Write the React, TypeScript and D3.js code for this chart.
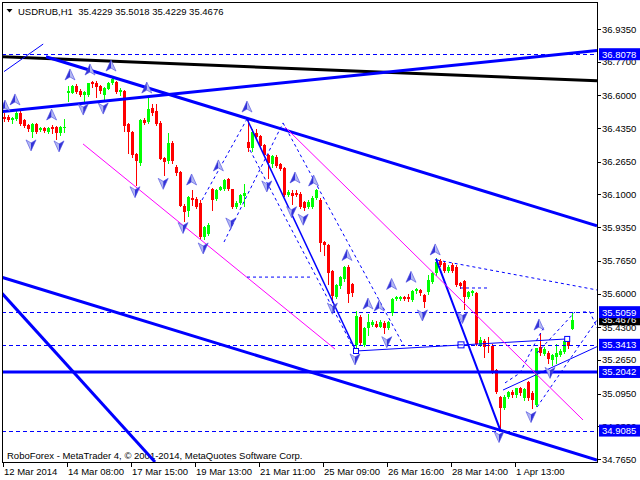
import * as d3 from "d3";

// USDRUB H1 candles (bar index 0..142), prices
const open = [36.493,36.49,36.476,36.483,36.513,36.476,36.45,36.415,36.455,36.425,36.435,36.415,36.44,36.44,36.41,36.438,
  36.611,36.614,36.647,36.624,36.6,36.6,36.667,36.664,36.647,36.6,36.634,36.662,36.667,36.617,36.62,36.455,
  36.415,36.304,36.257,36.476,36.466,36.536,36.523,36.462,36.284,36.267,36.361,36.24,36.213,36.042,36.018,36.082,
  36.079,36.057,35.887,35.9,36.128,36.077,36.123,36.128,36.176,36.126,36.037,36.057,36.092,36.366,36.333,36.41,
  36.395,36.35,36.299,36.254,36.291,36.254,36.233,36.097,36.109,36.109,36.102,36.06,36.039,36.039,36.08,36.07,
  35.86,35.844,35.715,35.584,35.638,35.672,35.733,35.648,35.341,35.48,35.341,35.424,35.441,35.447,35.433,35.452,
  35.426,35.5,35.573,35.573,35.583,35.583,35.568,35.613,35.618,35.593,35.608,35.66,35.702,35.764,35.756,35.716,
  35.744,35.736,35.655,35.665,35.585,35.601,35.601,35.341,35.362,35.341,35.336,35.214,35.08,35.021,35.08,35.105,
  35.088,35.122,35.073,35.154,35.1,35.038,35.332,35.295,35.302,35.265,35.278,35.29,35.305,35.361,35.4229];
const high = [36.51,36.5,36.49,36.526,36.52,36.48,36.455,36.46,36.46,36.44,36.44,36.44,36.45,36.445,36.445,36.481,
  36.647,36.654,36.655,36.63,36.62,36.665,36.674,36.674,36.65,36.64,36.67,36.69,36.675,36.635,36.627,36.46,
  36.42,36.31,36.48,36.485,36.593,36.556,36.556,36.47,36.29,36.41,36.37,36.25,36.22,36.05,36.09,36.123,
  36.085,36.07,35.94,35.955,36.135,36.13,36.145,36.18,36.183,36.13,36.065,36.1,36.153,36.48,36.43,36.43,
  36.4,36.355,36.305,36.3,36.3,36.26,36.24,36.125,36.12,36.12,36.11,36.065,36.07,36.09,36.13,36.08,
  35.865,35.85,35.72,35.65,35.69,35.74,35.745,35.655,35.512,35.49,35.43,35.497,35.465,35.46,35.465,35.46,
  35.46,35.58,35.59,35.59,35.59,35.598,35.62,35.63,35.625,35.6,35.692,35.71,35.779,35.775,35.765,35.745,
  35.755,35.745,35.66,35.67,35.615,35.62,35.61,35.38,35.37,35.383,35.345,35.22,35.085,35.09,35.11,35.115,
  35.125,35.13,35.125,35.16,35.11,35.325,35.4,35.33,35.31,35.295,35.346,35.32,35.37,35.383,35.5018];
const low = [36.47,36.47,36.462,36.478,36.45,36.44,36.42,36.391,36.41,36.42,36.415,36.41,36.41,36.382,36.4,36.415,
  36.573,36.61,36.61,36.595,36.561,36.595,36.644,36.592,36.61,36.577,36.63,36.655,36.61,36.6,36.422,36.311,
  36.29,36.15,36.25,36.455,36.46,36.5,36.45,36.28,36.198,36.26,36.26,36.2,36.04,35.968,35.99,36.047,
  36.03,35.88,35.875,35.895,36.022,36.07,36.12,36.12,36.12,36.03,36.03,36.05,36.04,36.32,36.32,36.385,
  36.34,36.295,36.183,36.24,36.24,36.225,36.09,36.09,36.051,36.09,36.03,36.02,36.03,36.03,36.075,35.816,
  35.796,35.648,35.559,35.575,35.63,35.665,35.559,35.59,35.31,35.345,35.335,35.391,35.435,35.43,35.43,35.401,
  35.42,35.49,35.565,35.565,35.565,35.562,35.56,35.605,35.595,35.532,35.6,35.655,35.695,35.74,35.71,35.71,
  35.71,35.64,35.63,35.522,35.58,35.595,35.34,35.335,35.282,35.307,35.2,35.1,34.917,35.015,35.075,35.08,
  35.08,35.09,35.065,35.065,35.023,35.03,35.29,35.29,35.25,35.24,35.25,35.285,35.3,35.325,35.4229];
const close = [36.481,36.476,36.486,36.511,36.455,36.443,36.43,36.455,36.415,36.435,36.42,36.435,36.43,36.41,36.441,36.442,
  36.62,36.647,36.617,36.6,36.617,36.664,36.657,36.641,36.62,36.637,36.664,36.681,36.617,36.627,36.445,36.415,
  36.298,36.27,36.476,36.459,36.533,36.511,36.455,36.281,36.265,36.358,36.27,36.207,36.042,36.013,36.086,36.072,
  36.038,35.887,35.936,35.946,36.072,36.125,36.14,36.173,36.126,36.038,36.057,36.097,36.107,36.333,36.416,36.388,
  36.344,36.299,36.257,36.294,36.244,36.23,36.096,36.114,36.092,36.096,36.039,36.03,36.062,36.082,36.12,35.857,
  35.844,35.705,35.588,35.645,35.682,35.733,35.598,35.601,35.487,35.349,35.426,35.457,35.457,35.433,35.454,35.426,
  35.454,35.574,35.583,35.583,35.573,35.572,35.614,35.623,35.601,35.559,35.668,35.706,35.761,35.744,35.716,35.736,
  35.716,35.643,35.638,35.581,35.61,35.614,35.344,35.366,35.332,35.336,35.206,35.105,35.021,35.08,35.105,35.088,
  35.122,35.097,35.117,35.073,35.063,35.324,35.298,35.32,35.268,35.29,35.302,35.312,35.361,35.333,35.4676];

const symbolTitle = "USDRUB,H1  35.4229 35.5018 35.4229 35.4676";
const footer = "RoboForex - MetaTrader 4, \u00a9 2001-2014, MetaQuotes Software Corp.";

const priceTicks = [36.935, 36.77, 36.6, 36.435, 36.265, 36.1, 35.935, 35.765, 35.6, 35.43, 35.265, 35.095, 34.93, 34.765];
const dateTicks = [0, 16, 32, 48, 64, 80, 96, 112, 128];
const dateLabels = ["12 Mar 2014", "14 Mar 08:00", "17 Mar 15:00", "19 Mar 13:00", "21 Mar 11:00",
  "25 Mar 09:00", "26 Mar 16:00", "28 Mar 14:00", "1 Apr 13:00"];

// horizontal levels
const dashedLevels = [36.8078, 35.5059, 35.3413, 34.9085];
const solidLevels = [35.2042];
const levelLabels = [36.8078, 35.5059, 35.3413, 35.2042, 34.9085];
const lastPrice = 35.4676;

// trend lines as [bar index, price] anchors
const blackLines = [[[-0.5, 36.795], [148.25, 36.674]]];
const thickBlueLines = [
  [[-0.5, 36.518], [148.25, 36.826]],
  [[10.5, 36.795], [148.25, 35.942]],
  [[-0.5, 35.682], [148.25, 34.76]],
  [[-0.5, 35.601], [37.75, 34.75]],
];
const mediumBlueLines = [[[108, 35.775], [124, 34.915]]];
const thinBlueLines = [
  [[0, 36.72], [9.8, 36.859]],
  [[60.75, 36.481], [87.75, 35.32]],
  [[88, 35.31], [140.8, 35.371]],
  [[124.75, 35.113], [148.25, 35.332]],
];
const magentaLines = [
  [[19.75, 36.355], [82.75, 35.32]],
  [[70.25, 36.44], [144.75, 34.962]],
];
const dashedLines = [
  [[60.75, 35.683], [77.25, 35.683]],
  [[108.25, 35.769], [148.25, 35.618]],
  [[114, 35.628], [121, 35.628]],
  [[49.5, 36.072], [60.75, 36.481]],
  [[55, 35.86], [69.75, 36.461]],
  [[69.75, 36.461], [100, 35.335]],
  [[61.5, 36.324], [87, 35.34]],
  [[125.25, 35.149], [129, 35.199], [132.25, 35.33], [135.25, 35.441]],
  [[133.25, 35.027], [148.25, 35.467]],
  [[133.25, 35.3], [142.75, 35.507]],
  [[144.75, 35.507], [146.5, 35.507], [148.25, 35.426]],
];
const boxMarks = [[88, 35.31], [140.8, 35.371]];
const eMarks = [[114.25, 35.341]];

// fractal arrows [bar index, price]
const upArrows = [[0.25, 36.546], [2.75, 36.577], [11.9, 36.501], [16.5, 36.703], [21.5, 36.728], [26.75, 36.748],
  [35.7, 36.637], [46.9, 36.173], [53.6, 36.244], [60.75, 36.541], [72.75, 36.183], [77.4, 36.168], [85.75, 35.792],
  [91, 35.547], [93.8, 35.537], [96.9, 35.646], [101.75, 35.682], [107.8, 35.82], [133.75, 35.441]];
const downArrows = [[6.75, 36.35], [13.75, 36.345], [19.8, 36.531], [24.8, 36.536], [32.75, 36.114], [39.8, 36.156],
  [44.75, 35.933], [49.8, 35.83], [56.7, 35.956], [65.7, 36.143], [71.9, 36.013], [74.8, 35.975], [82.1, 35.526],
  [87.75, 35.27], [95.7, 35.357], [104.6, 35.492], [114.6, 35.479], [123.75, 34.878], [131.75, 34.979], [136.5, 35.202]];

export default function App() {
  const width = 640, height = 480;
  const left = 2, right = 597, top = 2, bottom = 462;
  const font = "'Liberation Sans', Arial, sans-serif";
  const blue = "#0000ff";

  const x = d3.scaleLinear([0, 142], [4, 572]);
  const y = d3.scaleLinear([34.765, 36.935], [459, 29]);
  const fmt = d3.format(".4f");
  const line = d3.line<number[]>().x(d => x(d[0])).y(d => y(d[1]));

  const candles = open.map((o, i) => ({ i, o, h: high[i], l: low[i], c: close[i] }));

  const arrow = (cx: number, cy: number, up: boolean, k: number) => {
    const s = up ? 1 : -1;
    const tip = [cx, cy - 6 * s], notch = [cx, cy + 2 * s], l = [cx - 5, cy + 5 * s], r = [cx + 5, cy + 5 * s];
    const p = (a: number[][]) => "M" + a.map(q => q.join(",")).join("L") + "Z";
    return (
      <g key={k}>
        <path d={p([tip, l, notch])} fill={up ? "#3434d8" : "#b3b8f2"} />
        <path d={p([tip, r, notch])} fill={up ? "#b3b8f2" : "#3434d8"} />
        <path d={p([tip, r, notch, l])} fill="none" stroke="#4a4ae0" strokeWidth={0.6} />
      </g>
    );
  };

  return (
    <svg width={width} height={height} style={{ position: "absolute", left: 0, top: 0, background: "#fff" }}
      fontFamily={font}>
      <defs>
        <clipPath id="plot">
          <rect x={left + 1} y={top + 1} width={right - left - 1} height={bottom - top - 1} />
        </clipPath>
      </defs>
      <rect width={width} height={height} fill="#fff" />

      {/* header */}
      <path d="M6.5,9 L12.5,9 L9.5,12.5 Z" fill="#000" />
      <text x={18} y={14.5} fontSize={9.5} fill="#000" style={{ whiteSpace: "pre" }}>{symbolTitle}</text>

      <text x={7} y={458.5} fontSize={9.5} fill="#000">{footer}</text>

      <g clipPath="url(#plot)">
        {/* candles */}
        <g shapeRendering="crispEdges">
          {candles.map(d => {
            const cx = Math.round(x(d.i));
            const col = d.c >= d.o ? "#00ff00" : "#ff0000";
            const yt = Math.round(y(Math.max(d.o, d.c)));
            const yb = Math.round(y(Math.min(d.o, d.c)));
            return (
              <g key={d.i}>
                <line x1={cx + 0.5} x2={cx + 0.5} y1={Math.round(y(d.h))} y2={Math.round(y(d.l)) + 1} stroke={col} />
                <rect x={cx - 1} y={yt} width={3} height={Math.max(1, yb - yt)} fill={col} />
              </g>
            );
          })}
        </g>

        {/* levels */}
        {dashedLevels.map((v, k) => (
          <line key={"dl" + k} x1={left} x2={right} y1={Math.round(y(v)) + 0.5} y2={Math.round(y(v)) + 0.5}
            stroke={blue} strokeDasharray="4,3" />
        ))}
        {solidLevels.map((v, k) => (
          <line key={"sl" + k} x1={left} x2={right} y1={y(v)} y2={y(v)} stroke={blue} strokeWidth={3} />
        ))}

        {blackLines.map((d, k) => <path key={"b" + k} d={line(d)!} stroke="#000" strokeWidth={3} fill="none" />)}
        {thickBlueLines.map((d, k) => <path key={"tb" + k} d={line(d)!} stroke={blue} strokeWidth={3} fill="none" />)}
        {mediumBlueLines.map((d, k) => <path key={"mb" + k} d={line(d)!} stroke={blue} strokeWidth={2} fill="none" />)}
        {thinBlueLines.map((d, k) => <path key={"nb" + k} d={line(d)!} stroke={blue} strokeWidth={k === 1 ? 1.5 : 1} fill="none" />)}
        {magentaLines.map((d, k) => <path key={"m" + k} d={line(d)!} stroke="#ff00ff" strokeWidth={1} fill="none" />)}
        {dashedLines.map((d, k) => (
          <path key={"d" + k} d={line(d)!} stroke={blue} strokeWidth={1} strokeDasharray="3,3" fill="none" />
        ))}

        {boxMarks.map((d, k) => (
          <rect key={"bx" + k} x={x(d[0]) - 2.5} y={y(d[1]) - 2.5} width={5} height={5} fill="#fff" stroke={blue} />
        ))}
        {eMarks.map((d, k) => (
          <g key={"e" + k} stroke={blue} fill="#fff">
            <rect x={x(d[0]) - 3} y={y(d[1]) - 3} width={6} height={6} />
            <line x1={x(d[0]) - 3} x2={x(d[0]) + 2} y1={y(d[1])} y2={y(d[1])} />
          </g>
        ))}

        {upArrows.map((d, k) => arrow(x(d[0]), y(d[1]), true, k))}
        {downArrows.map((d, k) => arrow(x(d[0]), y(d[1]), false, 100 + k))}
      </g>

      {/* frame */}
      <rect x={left + 0.5} y={top + 0.5} width={right - left} height={bottom - top} fill="none" stroke="#000"
        shapeRendering="crispEdges" />

      {/* price axis */}
      {priceTicks.map((v, k) => (
        <g key={"pt" + k}>
          <line x1={right} x2={right + 4} y1={Math.round(y(v)) + 0.5} y2={Math.round(y(v)) + 0.5} stroke="#000" />
          <text x={602} y={y(v) + 3.5} fontSize={9.5} fill="#000">{fmt(v)}</text>
        </g>
      ))}

      <rect x={599} y={y(lastPrice) - 5.5} width={41} height={11} fill="#000" />
      <text x={602} y={y(lastPrice) + 3.5} fontSize={9.5} fill="#fff">{fmt(lastPrice)}</text>

      {levelLabels.map((v, k) => (
        <g key={"ll" + k}>
          <rect x={599} y={y(v) - 6} width={41} height={12} fill={blue} />
          <text x={602} y={y(v) + 3.5} fontSize={9.5} fill="#fff">{fmt(v)}</text>
        </g>
      ))}

      {/* time axis */}
      {dateTicks.map((t, k) => {
        const tx = Math.round(x(t)) - 1;
        return (
          <g key={"dt" + k}>
            <line x1={tx + 0.5} x2={tx + 0.5} y1={bottom} y2={bottom + 5} stroke="#000" />
            <text x={tx + 1} y={475} fontSize={9.5} fill="#000">{dateLabels[k]}</text>
          </g>
        );
      })}
    </svg>
  );
}
